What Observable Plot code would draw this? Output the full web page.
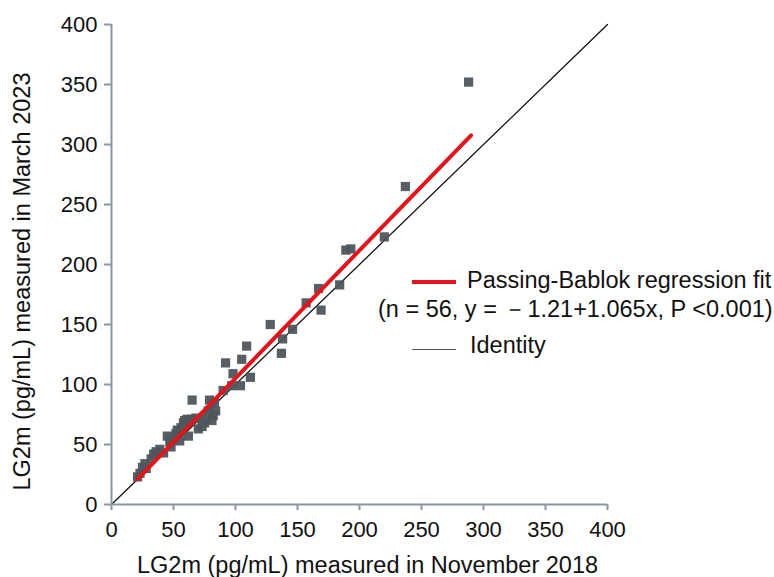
<!DOCTYPE html>
<html>
<head>
<meta charset="utf-8">
<script src="https://cdn.jsdelivr.net/npm/d3@7"></script>
<script src="https://cdn.jsdelivr.net/npm/@observablehq/plot@0.6"></script>
<style>
  body { margin: 0; background: #fff; font-family: "Liberation Sans", Arial, sans-serif; }
  #wrap { position: relative; width: 774px; height: 577px; }
  .leg { position: absolute; font-size: 23.5px; color: #111; white-space: nowrap; line-height: 1; }
  .sw { position: absolute; }
</style>
</head>
<body>
<div id="wrap"></div>
<script>
// Measurements (pg/mL)
const nov2018 = [21, 23, 25, 27, 28, 32, 34, 36, 39, 42, 45, 47, 48, 50, 52, 53, 55, 56, 58, 59, 61, 62, 64, 65, 68, 70, 73, 75, 76, 78, 79, 81, 82, 83, 84, 90, 92, 97, 98, 104, 105, 109, 112, 128, 137, 138, 146, 157, 167, 169, 184, 189, 193, 220, 237, 288];
const mar2023 = [23, 26, 31, 34, 30, 38, 42, 44, 46, 43, 57, 52, 48, 55, 59, 62, 53, 64, 68, 70, 71, 57, 71, 87, 72, 63, 65, 68, 71, 78, 87, 70, 74, 85, 78, 95, 118, 99, 109, 99, 121, 132, 106, 150, 126, 138, 146, 168, 180, 162, 183, 212, 213, 223, 265, 352];

// Passing-Bablok fit
const fitIntercept = -1.21;
const fitSlope = 1.065;
const fitRange = [21, 290];
const identityRange = [0, 400];

const xTicks = [0, 50, 100, 150, 200, 250, 300, 350, 400];
const yTicks = [0, 50, 100, 150, 200, 250, 300, 350, 400];

const xLabel = "LG2m (pg/mL) measured in November 2018";
const yLabel = "LG2m (pg/mL) measured in March 2023";
const legendFit = "Passing-Bablok regression fit";
const legendStats = "(n = 56, y = \uFF0D1.21+1.065x, P <0.001)";
const legendIdentity = "Identity";

const points = nov2018.map((x, i) => ({x, y: mar2023[i]}));
const fitLine = fitRange.map(x => ({x, y: fitIntercept + fitSlope * x}));
const identityLine = identityRange.map(v => ({x: v, y: v}));

const axisColor = "#8797a6";

const chart = Plot.plot({
  width: 774,
  height: 577,
  marginLeft: 111,
  marginRight: 167,
  marginTop: 24,
  marginBottom: 73,
  style: { fontFamily: "'Liberation Sans', Arial, sans-serif", fontSize: "22px", background: "#fff", color: "#111" },
  x: { domain: [0, 400] },
  y: { domain: [0, 400] },
  marks: [
    Plot.line(identityLine, { x: "x", y: "y", stroke: "#111", strokeWidth: 1.3 }),
    Plot.dot(points, { x: "x", y: "y", symbol: "square", r: 5.2, fill: "#4e555c", fillOpacity: 0.95 }),
    Plot.line(fitLine, { x: "x", y: "y", stroke: "#e3141b", strokeWidth: 4, strokeLinecap: "round" }),
    Plot.ruleY([0], { stroke: axisColor, strokeWidth: 2 }),
    Plot.ruleX([0], { stroke: axisColor, strokeWidth: 2 }),
    Plot.axisX({ ticks: xTicks, tickSize: 6, tickPadding: 11, stroke: axisColor, strokeWidth: 2, tickFormat: d => String(d), label: null, fill: "#111" }),
    Plot.axisY({ ticks: yTicks, tickSize: 7, tickPadding: 7, stroke: axisColor, strokeWidth: 2, tickFormat: d => String(d), label: null, fill: "#111" }),
    Plot.text([xLabel], { frameAnchor: "bottom", text: d => d, textAnchor: "middle", lineAnchor: "middle", dy: 61, dx: 8, fontSize: 23.5, fill: "#111" }),
    Plot.text([yLabel], { frameAnchor: "left", text: d => d, rotate: -90, textAnchor: "middle", lineAnchor: "middle", dx: -89, dy: 17, fontSize: 23.5, fill: "#111" })
  ]
});

const wrap = document.getElementById("wrap");
wrap.appendChild(chart);

function addText(txt, left, top) {
  const d = document.createElement("div");
  d.className = "leg";
  d.textContent = txt;
  d.style.left = left + "px";
  d.style.top = top + "px";
  wrap.appendChild(d);
}
function addSwatch(left, top, w, h, color) {
  const d = document.createElement("div");
  d.className = "sw";
  d.style.left = left + "px";
  d.style.top = top + "px";
  d.style.width = w + "px";
  d.style.height = h + "px";
  d.style.background = color;
  wrap.appendChild(d);
}
addSwatch(412, 280, 44, 4, "#e3141b");
addText(legendFit, 467, 268.5);
addText(legendStats, 378, 297.5);
addSwatch(412, 349, 44, 1.3, "#555");
addText(legendIdentity, 470, 333.5);
</script>
</body>
</html>
